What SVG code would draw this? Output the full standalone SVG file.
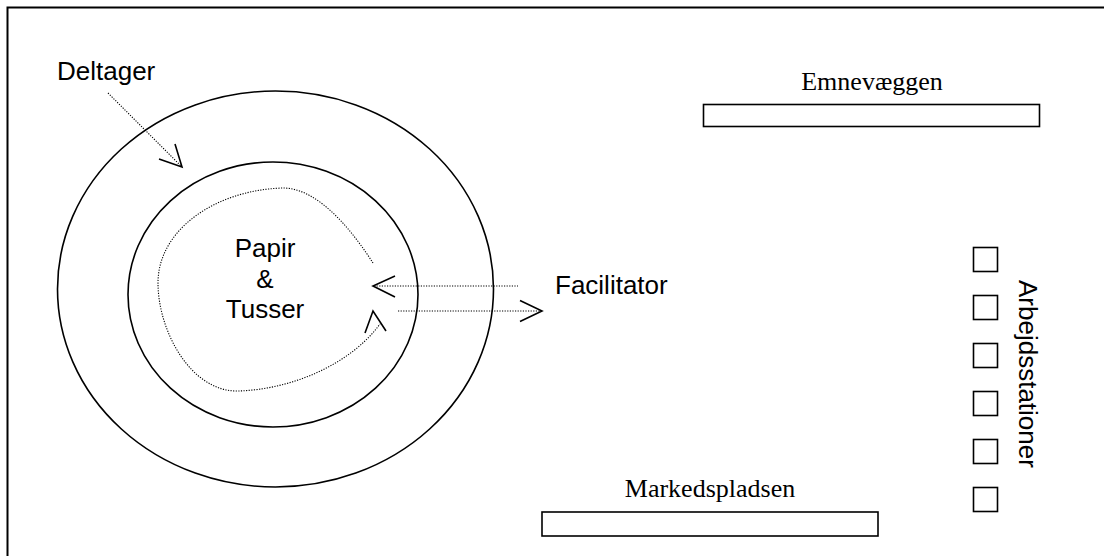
<svg xmlns="http://www.w3.org/2000/svg" width="1104" height="556" viewBox="0 0 1104 556">
<style>
.frame{fill:none;stroke:#000;stroke-width:2}
.ring{fill:none;stroke:#000;stroke-width:1.6}
.box{fill:#fff;stroke:#000;stroke-width:1.6}
.dot{fill:none;stroke:#000;stroke-width:1.1;stroke-dasharray:1.2 1.4}
.head{fill:none;stroke:#000;stroke-width:1.6;stroke-linejoin:miter}
.sans{font-family:"Liberation Sans",Arial,sans-serif;font-size:26px;fill:#000}
.serif{font-family:"Liberation Serif","Times New Roman",serif;font-size:26px;fill:#000}
</style>
<rect x="0" y="0" width="1104" height="556" fill="#fff"/>
<rect class="frame" x="7.5" y="7.5" width="1110" height="570"/>
<g id="outer-circle"><ellipse class="ring" cx="275.5" cy="289" rx="218" ry="198"/></g>
<g id="inner-circle"><ellipse class="ring" cx="273" cy="294.5" rx="145" ry="132.5"/></g>
<g id="papir-tusser">
<text class="sans" x="265" y="257" text-anchor="middle">Papir</text>
<text class="sans" x="265" y="288" text-anchor="middle">&amp;</text>
<text class="sans" x="265" y="318" text-anchor="middle">Tusser</text>
</g>
<g id="deltager"><text class="sans" x="57" y="80">Deltager</text></g>
<g id="facilitator"><text class="sans" x="555" y="294">Facilitator</text></g>
<g id="emnevaeggen">
<text class="serif" x="872" y="90" text-anchor="middle">Emnevæggen</text>
<rect class="box" x="703.5" y="104.5" width="336" height="22"/>
</g>
<g id="markedspladsen">
<text class="serif" x="710" y="497" text-anchor="middle">Markedspladsen</text>
<rect class="box" x="542" y="512" width="336" height="24"/>
</g>
<g id="arbejdsstationer">
<rect class="box" x="973.5" y="247.5" width="24" height="24"/>
<rect class="box" x="973.5" y="295.5" width="24" height="24"/>
<rect class="box" x="973.5" y="343.5" width="24" height="24"/>
<rect class="box" x="973.5" y="391.5" width="24" height="24"/>
<rect class="box" x="973.5" y="439.5" width="24" height="24"/>
<rect class="box" x="973.5" y="487.5" width="24" height="24"/>
<text class="sans" transform="translate(1019,280) rotate(90)">Arbejdsstationer</text>
</g>
<g id="connectors">
<line class="dot" x1="108" y1="93" x2="181" y2="166"/>
<polyline class="head" points="175,144 182,167 159,159"/>
<path class="dot" d="M373,263 C355,235 320,188 283,188 C215,190 158,230 158,283 C158,330 190,391 237,391 C290,390 350,365 380,324"/>
<polyline class="head" points="365,333 373,311 386,331"/>
<line class="dot" x1="374" y1="286" x2="518" y2="286"/>
<polyline class="head" points="395,276 373,286 395,297"/>
<line class="dot" x1="398" y1="311" x2="541" y2="311"/>
<polyline class="head" points="520,300.5 542,311 520,321.5"/>
</g>
</svg>
